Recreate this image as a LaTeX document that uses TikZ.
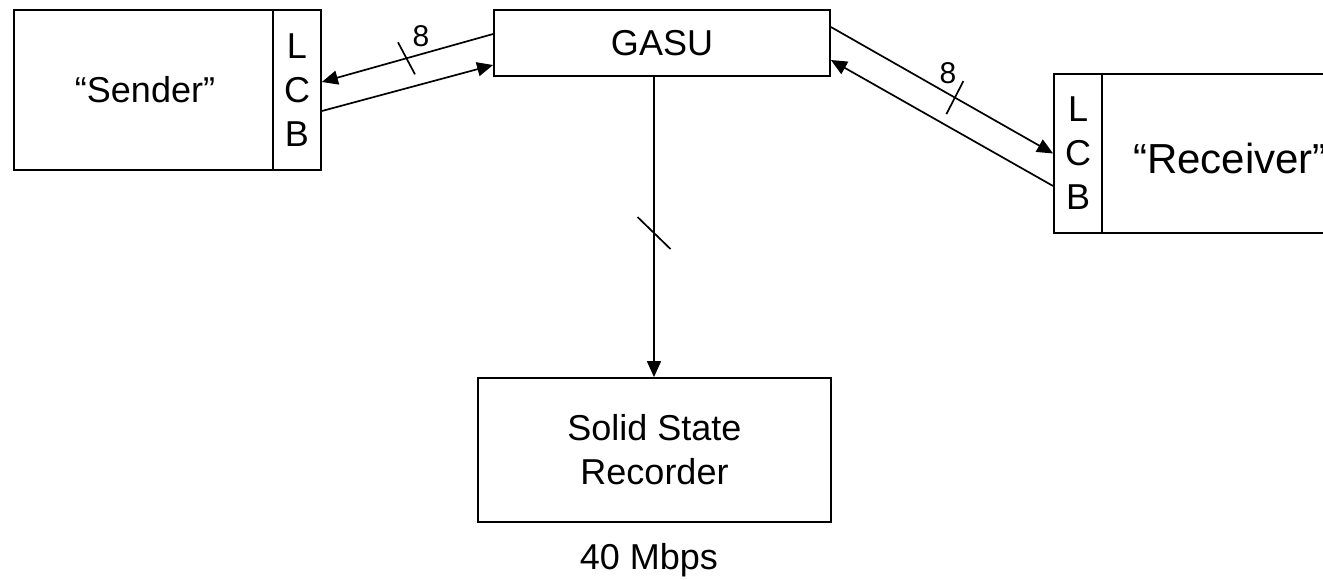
\documentclass[tikz,border=0pt]{standalone}
\usepackage{fontspec}
\setmainfont{Liberation Sans}
\usetikzlibrary{arrows.meta,calc}
\begin{document}
\begin{tikzpicture}[x=1pt,y=1pt,
  box/.style={draw,line width=1.8pt,inner sep=0pt,align=center,font=\fontsize{36}{44}\selectfont},
  lbl/.style={inner sep=0pt,font=\fontsize{36}{44}\selectfont},
  small/.style={inner sep=0pt,font=\fontsize{30}{32}\selectfont},
  conn/.style={line width=1.7pt},
  arr/.style={conn,-{Triangle[length=16pt,width=14pt]}},
  tick/.style={line width=1.7pt}]
\useasboundingbox (0,0) rectangle (1323,-579);
\clip (0,0) rectangle (1323,-579);
% boxes
\node[box,minimum width=259,minimum height=160] (sender) at (143.5,-90) {};
\node[lbl] (sendertxt) at (145,-90) {“Sender”};
\node[box,minimum width=48,minimum height=160] (slcb) at (297,-90) {L\\C\\B};
\node[box,minimum width=336,minimum height=66] (gasu) at (662,-43) {GASU};
\node[box,minimum width=48,minimum height=159] (rlcb) at (1078,-153.5) {L\\C\\B};
\node[box,minimum width=300,minimum height=159] (receiver) at (1252,-153.5) {};
\node[lbl,anchor=west,font=\fontsize{42}{46}\selectfont] (receivertxt) at (1133,-158) {“Receiver”};
\node[box,minimum width=353,minimum height=144] (ssr) at (654.5,-450) {Solid State\\Recorder};
\node[lbl] (rate) at (649,-560) {40 Mbps};
% sender <-> gasu
\draw[arr] ([yshift=9pt]gasu.west) -- coordinate[pos=0.506] (t1) ([yshift=8pt]slcb.east);
\draw[arr] ([yshift=-21pt]slcb.east) -- ([yshift=-22pt]gasu.west);
\draw[tick] ($(t1)+(-8.5,16)$) -- ($(t1)+(8.5,-16)$);
\node[small] (n1) at (421,-36) {8};
% gasu <-> receiver
\draw[arr] ([yshift=16pt]gasu.east) -- coordinate[pos=0.558] (t2) ([yshift=0pt]rlcb.west);
\draw[arr] ([yshift=-32.5pt]rlcb.west) -- ([yshift=-17pt]gasu.east);
\draw[tick] ($(t2)+(-8.5,-16.5)$) -- ($(t2)+(8.5,16.5)$);
\node[small] (n2) at (948,-73) {8};
% gasu -> ssr
\coordinate (gb) at ([xshift=-8pt]gasu.south);
\draw[arr] (gb) -- coordinate[pos=0.52] (t3) (gb |- ssr.north);
\draw[tick] ($(t3)+(-16.5,16)$) -- ($(t3)+(16.5,-16)$);
\end{tikzpicture}
\end{document}
